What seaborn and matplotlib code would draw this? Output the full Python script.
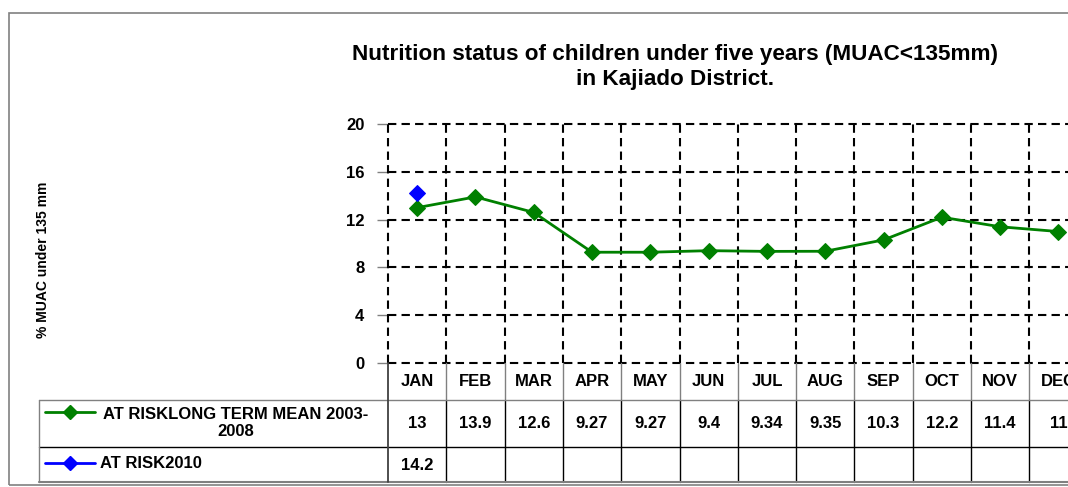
import matplotlib
matplotlib.use("Agg")
import matplotlib.pyplot as plt
import seaborn as sns
import pandas as pd
from matplotlib.lines import Line2D
from matplotlib.patches import Rectangle
from matplotlib.transforms import blended_transform_factory

months = ["JAN", "FEB", "MAR", "APR", "MAY", "JUN", "JUL", "AUG", "SEP", "OCT", "NOV", "DEC"]
long_term_mean = [13, 13.9, 12.6, 9.27, 9.27, 9.4, 9.34, 9.35, 10.3, 12.2, 11.4, 11]
at_risk_2010 = [14.2]
series_names = ["AT RISKLONG TERM MEAN 2003-\n2008", "AT RISK2010"]
y_ticks = [0, 4, 8, 12, 16, 20]
title = "Nutrition status of children under five years (MUAC<135mm)\nin Kajiado District."
y_label = "% MUAC under 135 mm"

sns.set_theme(style="white")
plt.rcParams["font.family"] = ["Liberation Sans", "DejaVu Sans"]
plt.rcParams["font.weight"] = "bold"
plt.rcParams["text.color"] = "black"
plt.rcParams["ytick.labelcolor"] = "black"

W, H = 1068, 487
fig = plt.figure(figsize=(W / 100, H / 100), dpi=100)

def fx(px):
    return px / W

def fy(py):
    return 1 - py / H

col_w = 58.3
left_px, top_px, bot_px = 388, 124, 363
ax = fig.add_axes([fx(left_px), fy(bot_px), fx(12 * col_w), (bot_px - top_px) / H])

GREEN = "#008000"
BLUE = "#0000FF"
FS = 12

df1 = pd.DataFrame({"x": range(len(months)), "y": long_term_mean})
df2 = pd.DataFrame({"x": range(len(at_risk_2010)), "y": at_risk_2010})
sns.lineplot(data=df1, x="x", y="y", ax=ax, color=GREEN, linewidth=2,
             marker="D", markersize=8, markeredgecolor=GREEN, zorder=5)
sns.lineplot(data=df2, x="x", y="y", ax=ax, color=BLUE, linewidth=2,
             marker="D", markersize=8, markeredgecolor=BLUE, zorder=5)

ax.set_xlim(-0.5, len(months) - 0.5)
ax.set_ylim(0, 20)
ax.set_yticks(y_ticks)
ax.set_yticklabels([str(t) for t in y_ticks], fontsize=FS, fontweight="bold", color="black")
ax.tick_params(axis="y", length=8, width=1, color="#808080", pad=9, direction="out", left=True)
ax.set_xticks([])
ax.set_xlabel("")
ax.set_ylabel("")
for s in ax.spines.values():
    s.set_visible(False)

# dashed grid incl. border
for t in y_ticks:
    ax.axhline(t, color="black", linestyle=(0, (4, 2.5)), linewidth=1.5, zorder=1, clip_on=False)
for i in range(len(months) + 1):
    ax.axvline(i - 0.5, color="black", linestyle=(0, (4, 2.5)), linewidth=1.5, zorder=1, clip_on=False)

# title and y label
fig.text(fx(675), fy(67), title, ha="center", va="center", fontsize=16.2,
         fontweight="bold", linespacing=1.25, color="black")
fig.text(fx(43), fy(260), y_label, rotation=90, ha="center", va="center",
         fontsize=10, fontweight="bold", color="black")

# data table
tr = blended_transform_factory(ax.transData, fig.transFigure)
row_y = [363, 400, 447, 482]
legend_left = 39
GRAY = "#808080"

def hline(x0px, y, color, lw=1):
    fig.add_artist(Line2D([fx(x0px), 1.05], [fy(y), fy(y)], color=color, lw=lw))

hline(legend_left, row_y[1], GRAY)
hline(legend_left, row_y[2], "black")
hline(legend_left, row_y[3], GRAY, lw=1.5)
fig.add_artist(Line2D([fx(legend_left)] * 2, [fy(row_y[1]), fy(row_y[3])], color=GRAY, lw=1))
fig.add_artist(Line2D([fx(left_px)] * 2, [fy(row_y[0]), fy(row_y[3])], color="#404040", lw=1.3))
for i in range(1, len(months) + 1):
    ax.add_artist(Line2D([i - 0.5] * 2, [fy(row_y[0]), fy(row_y[1])], color=GRAY, lw=1,
                         transform=tr, clip_on=False))
    ax.add_artist(Line2D([i - 0.5] * 2, [fy(row_y[1]), fy(row_y[3])], color="black", lw=1,
                         transform=tr, clip_on=False))

for i, m in enumerate(months):
    ax.text(i, fy(382), m, transform=tr, ha="center", va="center", fontsize=FS,
            fontweight="bold", clip_on=False, color="black")
for i, v in enumerate(long_term_mean):
    ax.text(i, fy(424), f"{v:g}", transform=tr, ha="center", va="center", fontsize=FS,
            fontweight="bold", clip_on=False, color="black")
for i, v in enumerate(at_risk_2010):
    ax.text(i, fy(466), f"{v:g}", transform=tr, ha="center", va="center", fontsize=FS,
            fontweight="bold", clip_on=False, color="black")

# legend keys
for (y, color) in [(412, GREEN), (463, BLUE)]:
    fig.add_artist(Line2D([fx(45), fx(95)], [fy(y), fy(y)], color=color, lw=2))
    fig.add_artist(Line2D([fx(70)], [fy(y)], color=color, marker="D", markersize=7,
                          markeredgecolor=color))
fig.text(fx(236), fy(423), series_names[0], ha="center", va="center", fontsize=FS,
         fontweight="bold", linespacing=1.2, color="black")
fig.text(fx(100), fy(463), series_names[1], ha="left", va="center", fontsize=FS,
         fontweight="bold", color="black")

# outer chart border
fig.add_artist(Rectangle((fx(9), fy(485)), 1.2, fy(13) - fy(485), fill=False,
                         edgecolor=GRAY, lw=1.2))

fig.savefig("out.png", dpi=100)
